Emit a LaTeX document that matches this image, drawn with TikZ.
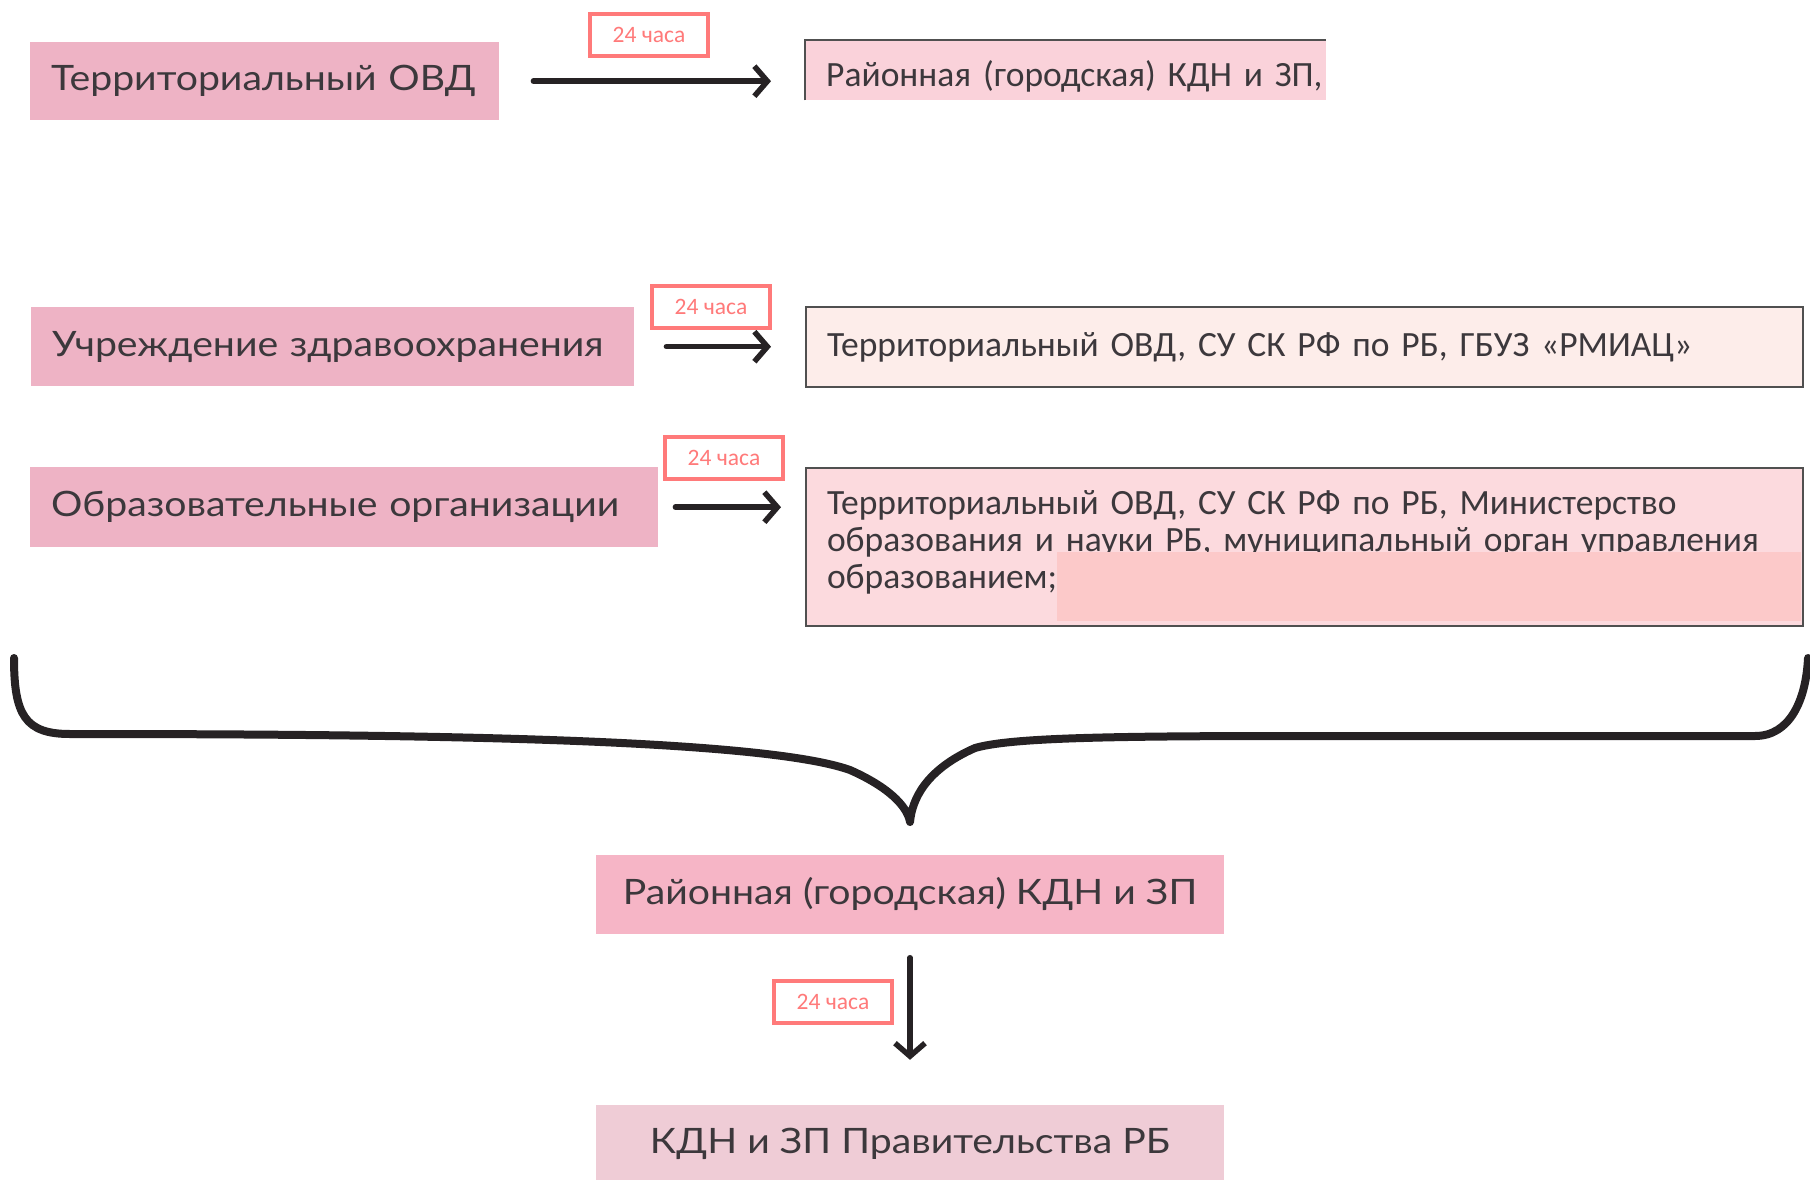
\documentclass[tikz,border=0pt]{standalone}
\usepackage{fontspec}
\setmainfont{Lato}
\newfontfamily\bigfont[FakeStretch=1.12]{Lato}
\newfontfamily\narrowfont{Carlito}
\usetikzlibrary{arrows.meta, positioning}

\definecolor{srcpink}{RGB}{238,179,197}
\definecolor{kdnpink}{RGB}{246,181,198}
\definecolor{govpink}{RGB}{239,204,214}
\definecolor{dstpink}{RGB}{250,210,218}
\definecolor{dstcream}{RGB}{253,237,234}
\definecolor{dstrose}{RGB}{252,218,222}
\definecolor{patchpink}{RGB}{252,201,201}
\definecolor{tagred}{RGB}{255,122,122}
\definecolor{inkgrey}{RGB}{60,56,60}
\definecolor{edgegrey}{RGB}{80,80,80}
\definecolor{bracegrey}{RGB}{38,34,36}

\begin{document}
\begin{tikzpicture}[x=1pt, y=-1pt,
    srcbox/.style={fill=srcpink, text=inkgrey, anchor=north west, inner xsep=21pt, inner ysep=0pt,
        align=left, font=\bigfont\fontsize{35pt}{40pt}\selectfont},
    midbox/.style={text=inkgrey, minimum width=628pt, minimum height=79pt, inner sep=0pt,
        font=\bigfont\fontsize{35pt}{40pt}\selectfont},
    dstbox/.style={text=inkgrey, anchor=north west, inner xsep=21pt, inner ysep=0pt, text width=955pt,
        align=left, font=\narrowfont\fontsize{35.5pt}{37pt}\selectfont},
    tagbox/.style={draw=tagred, line width=4pt, fill=white, text=tagred, minimum width=118pt,
        minimum height=42pt, inner sep=0pt, font=\narrowfont\fontsize{23.5pt}{25pt}\selectfont},
    flow/.style={draw=bracegrey, line width=5.5pt, line cap=round, -{Straight Barb[length=13pt,width=30pt]}},
  ]
    \useasboundingbox (0,0) rectangle (1810,1180);

    % senders
    \node[srcbox, text width=427pt, minimum height=78pt] (src1) at (30,42) {Территориальный ОВД};
    \node[srcbox, text width=561pt, minimum height=79pt] (src2) at (31,307) {Учреждение здравоохранения};
    \node[srcbox, text width=586pt, minimum height=80pt] (src3) at (30,467) {Образовательные организации};

    % receivers
    \node[dstbox, fill=dstpink, text width=479pt, minimum height=60pt, text height=33pt, text depth=0pt]
        (dst1) at (805,40) {\mbox{Районная (городская) КДН и ЗП,}};
    \draw[edgegrey, line width=2pt] (dst1.south west) -- (dst1.north west) -- (dst1.north east);
    \node[dstbox, fill=dstcream, draw=edgegrey, line width=2pt, minimum height=80pt] (dst2) at (805,306)
        {Территориальный ОВД, СУ СК РФ по РБ, ГБУЗ «РМИАЦ»};
    \node[dstbox, fill=dstrose, draw=edgegrey, line width=2pt, minimum height=158pt,
        text height=20pt, text depth=86pt] (dst3) at (805,467)
        {Территориальный ОВД, СУ СК РФ по РБ, Министерство\\
         образования и науки РБ, муниципальный орган управления\\
         образованием;};
    \fill[patchpink] (1057,552) rectangle (1801,621);

    % arrows and deadlines
    \draw[flow] ([xshift=34pt]src1.east) -- ([xshift=-34pt]src1.east -| dst1.west);
    \draw[flow] ([xshift=32pt]src2.east) -- ([xshift=-34pt]src2.east -| dst2.west);
    \draw[flow] ([xshift=17pt]src3.east) -- ([xshift=-24pt]src3.east -| dst3.west);
    \node[tagbox] (tag1) at (649,35) {24 часа};
    \node[tagbox] (tag2) at (711,307) {24 часа};
    \node[tagbox] (tag3) at (724,458) {24 часа};

    % brace
    \draw[bracegrey, line width=8pt, line cap=round, line join=round]
        (14,658) .. controls (14,715) and (25,734) .. (70,734)
        .. controls (400,734) and (760,738) .. (850,770)
        .. controls (895,790) and (908,810) .. (910,822)
        .. controls (912,800) and (925,770) .. (975,748)
        .. controls (1010,738) and (1100,736) .. (1300,736)
        -- (1755,736) .. controls (1790,736) and (1806,700) .. (1808,658);

    % district commission and government
    \node[midbox, fill=kdnpink] (kdn) at (910,894) {Районная (городская) КДН и ЗП};
    \node[midbox, fill=govpink, minimum height=78pt] (gov) at (910,1144) {КДН и ЗП Правительства РБ};
    \draw[flow] ([yshift=-24pt]kdn.south) -- ([yshift=45pt]gov.north);
    \node[tagbox] (tag4) at (833,1002) {24 часа};
\end{tikzpicture}
\end{document}
